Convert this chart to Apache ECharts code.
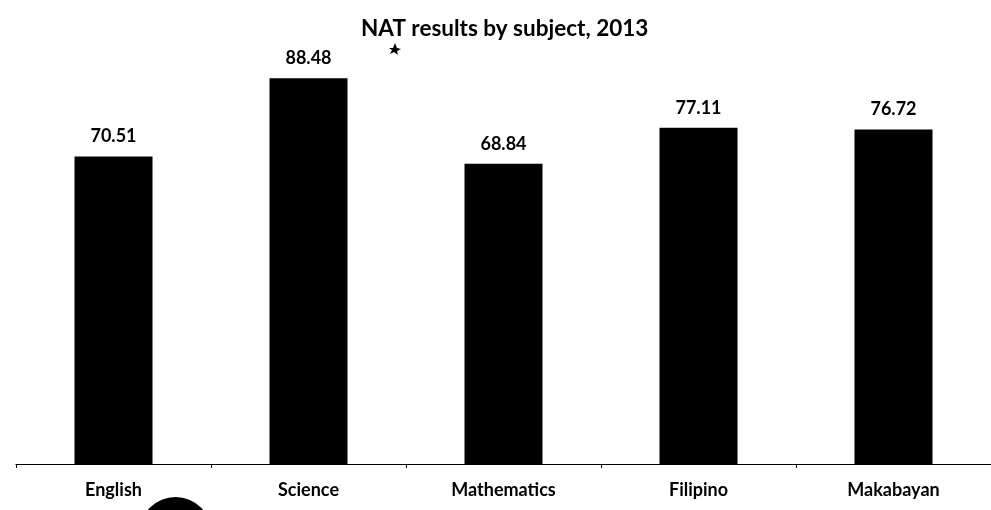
<!DOCTYPE html>
<html>
<head>
<meta charset="utf-8">
<script src="https://cdn.jsdelivr.net/npm/echarts@6/dist/echarts.min.js"></script>
<style>
  html, body { margin: 0; padding: 0; background: #fff; }
  #chart { width: 991px; height: 510px; }
</style>
</head>
<body>
<div id="chart"></div>
<script>
// NAT mean percentage scores per subject, 2013
const subjects = ['English', 'Science', 'Mathematics', 'Filipino', 'Makabayan'];
const scores = [70.51, 88.48, 68.84, 77.11, 76.72];

const FONT = 'Lato, "Open Sans", "Liberation Sans", sans-serif';

const chart = echarts.init(document.getElementById('chart'));
chart.setOption({
  backgroundColor: '#ffffff',
  animation: false,
  title: {
    text: 'NAT results by subject, 2013',
    left: 356,
    top: 12,
    textStyle: { fontFamily: FONT, fontWeight: 'bold', fontSize: 22.5, color: '#000' }
  },
  grid: { left: 16, width: 978, top: 28, bottom: 46 },
  xAxis: {
    type: 'category',
    data: subjects,
    axisLine: { show: true, lineStyle: { color: '#000', width: 1.2 } },
    axisTick: { show: true, length: 4, inside: false, alignWithLabel: false, lineStyle: { color: '#000' } },
    axisLabel: {
      fontFamily: FONT, fontWeight: 'bold', fontSize: 18, color: '#000', margin: 17
    }
  },
  yAxis: {
    type: 'value',
    min: 0,
    max: 100,
    show: false,
    splitLine: { show: false }
  },
  series: [{
    type: 'bar',
    data: scores,
    barWidth: 78,
    itemStyle: { color: '#000' },
    label: {
      show: true,
      position: 'top',
      distance: 11,
      formatter: p => p.value.toFixed(2),
      fontFamily: FONT, fontWeight: 'bold', fontSize: 18, color: '#000'
    }
  }],
  graphic: [
    {
      type: 'circle',
      shape: { cx: 175.5, cy: 533, r: 36 },
      style: { fill: '#000' },
      z: 10
    },
    {
      type: 'polygon',
      shape: { points: [[395, 43], [397, 48], [401, 49], [397, 51], [398, 55], [394, 52], [390, 54], [392, 50], [389, 48], [393, 48]] },
      style: { fill: '#000' },
      z: 10
    }
  ]
});
</script>
</body>
</html>
